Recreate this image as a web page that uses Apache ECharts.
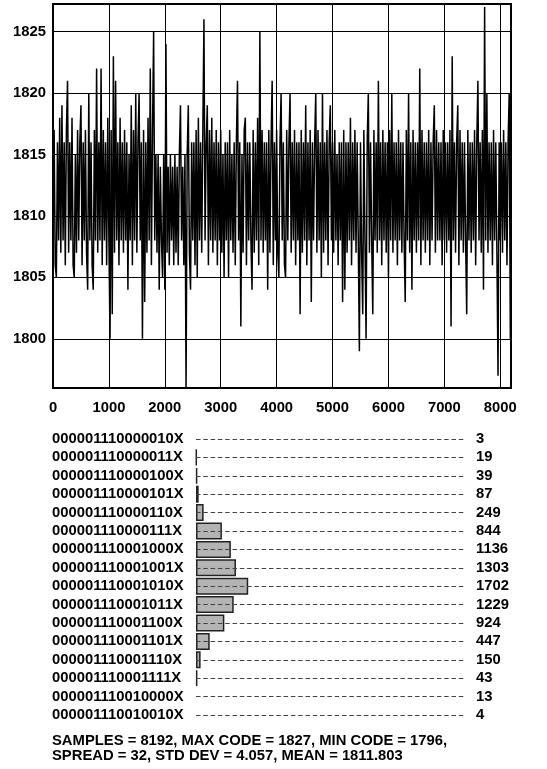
<!DOCTYPE html>
<html>
<head>
<meta charset="utf-8">
<script src="https://cdn.jsdelivr.net/npm/echarts@6/dist/echarts.min.js"></script>
<style>
html,body{margin:0;padding:0;background:#fff;}
#chart{width:547px;height:769px;}
</style>
</head>
<body>
<div id="chart"></div>
<script>
// ---- Time-domain trace (one every SAMPLE_STEP samples) ----
const SAMPLE_STEP = 20;
const traceValues = [
1808,1817,1806,1805,1816,1808,1818,1807,1819,1808,
1816,1806,1817,1821,1807,1816,1808,1818,1806,1805,
1815,1807,1817,1808,1816,1819,1806,1816,1808,1817,
1807,1804,1820,1808,1816,1806,1804,1817,1808,1822,
1807,1816,1808,1822,1806,1817,1808,1816,1806,1818,
1808,1800,1817,1802,1823,1807,1821,1808,1816,1806,
1818,1808,1816,1807,1817,1808,1816,1804,1815,1808,
1819,1806,1817,1808,1820,1807,1816,1820,1808,1816,
1800,1817,1803,1816,1807,1818,1808,1822,1806,1817,
1825,1808,1815,1807,1815,1804,1814,1808,1805,1815,
1804,1824,1807,1814,1806,1815,1808,1814,1806,1815,
1807,1814,1806,1815,1819,1808,1814,1806,1815,1796,
1815,1819,1807,1804,1816,1808,1816,1806,1817,1805,
1818,1808,1816,1807,1817,1826,1808,1816,1819,1806,
1817,1808,1818,1807,1816,1808,1817,1806,1816,1808,
1817,1807,1815,1805,1816,1808,1816,1805,1817,1808,
1815,1807,1816,1806,1816,1821,1808,1816,1801,1815,
1807,1817,1818,1806,1816,1808,1816,1808,1804,1817,
1807,1816,1808,1818,1806,1825,1808,1817,1807,1816,
1808,1816,1804,1817,1807,1816,1821,1806,1816,1808,
1817,1807,1805,1816,1820,1808,1816,1806,1805,1817,
1808,1816,1820,1807,1816,1808,1817,1806,1816,1808,
1816,1802,1817,1807,1816,1808,1819,1806,1816,1808,
1817,1803,1816,1808,1816,1820,1807,1817,1808,1816,
1805,1820,1807,1816,1808,1817,1806,1816,1819,1808,
1816,1807,1817,1808,1815,1806,1816,1808,1816,1803,
1817,1804,1816,1807,1816,1808,1818,1806,1816,1808,
1817,1807,1816,1808,1799,1816,1807,1802,1817,1808,
1800,1816,1820,1807,1816,1808,1802,1817,1808,1816,
1807,1821,1808,1816,1806,1817,1808,1816,1807,1816,
1805,1817,1808,1820,1807,1816,1808,1816,1806,1817,
1808,1816,1807,1816,1808,1803,1817,1808,1820,1807,
1816,1804,1817,1808,1816,1807,1816,1808,1822,1806,
1817,1808,1816,1807,1816,1808,1817,1806,1816,1808,
1816,1819,1807,1817,1808,1816,1808,1816,1806,1817,
1808,1816,1807,1816,1808,1817,1801,1823,1808,1816,
1807,1816,1819,1806,1817,1808,1816,1807,1816,1808,
1802,1817,1808,1816,1807,1816,1808,1817,1806,1816,
1821,1808,1816,1807,1817,1804,1827,1808,1820,1807,
1816,1808,1816,1806,1817,1808,1816,1807,1797,1816,
1808,1816,1807,1817,1808,1816,1806,1816,1820,1800
];
const xTickValues = [0,1000,2000,3000,4000,5000,6000,7000,8000];
const yTickValues = [1800,1805,1810,1815,1820,1825];
const TOTAL_SAMPLES = 8192;

// ---- Histogram ----
const codeLabels = [
'000001110000010X','000001110000011X','000001110000100X','000001110000101X',
'000001110000110X','000001110000111X','000001110001000X','000001110001001X',
'000001110001010X','000001110001011X','000001110001100X','000001110001101X',
'000001110001110X','000001110001111X','000001110010000X','000001110010010X'
];
const codeCounts = [3,19,39,87,249,844,1136,1303,1702,1229,924,447,150,43,13,4];

const statLines = [
'SAMPLES = 8192, MAX CODE = 1827, MIN CODE = 1796,',
'SPREAD = 32, STD DEV = 4.057, MEAN = 1811.803'
];

const FONT = '"Liberation Sans", Arial, Helvetica, sans-serif';
const FONT_SIZE = 14.8;
const HIST_MAX = 8800;

const chart = echarts.init(document.getElementById('chart'), null, {renderer:'canvas'});
const labelStyle = {color:'#000', fontFamily:FONT, fontWeight:'bold', fontSize:FONT_SIZE};

const traceData = traceValues.map((v,i)=>[i*SAMPLE_STEP, v]);
const histData = codeCounts.map(c => c < 15
  ? {value:c, itemStyle:{borderWidth:0, color:'transparent'}}
  : {value:c});

chart.setOption({
  animation:false,
  backgroundColor:'#fff',
  grid:[
    {left:53, top:4, width:458, height:384, show:true, borderColor:'#000', borderWidth:2, backgroundColor:'transparent'},
    {left:196, top:429.8, width:270, height:294.4, show:false}
  ],
  xAxis:[
    {type:'value', gridIndex:0, min:0, max:TOTAL_SAMPLES, interval:1000,
     axisLine:{show:false}, axisTick:{show:false},
     axisLabel:Object.assign({margin:12, showMaxLabel:false,
        formatter:v => xTickValues.indexOf(v)>=0 ? String(v) : ''}, labelStyle),
     splitLine:{show:true, lineStyle:{color:'#000', width:1}}},
    {type:'value', gridIndex:1, min:0, max:HIST_MAX, show:false}
  ],
  yAxis:[
    {type:'value', gridIndex:0, min:1796, max:1827.25,
     axisLine:{show:false},
     axisTick:{show:false, customValues:yTickValues},
     axisLabel:Object.assign({margin:7, customValues:yTickValues, formatter:v=>String(v)}, labelStyle),
     splitLine:{show:true, lineStyle:{color:'#000', width:1}}},
    {type:'category', gridIndex:1, data:codeLabels, inverse:true,
     axisLine:{show:false}, axisTick:{show:false},
     axisLabel:Object.assign({margin:144, align:'left', interval:0}, labelStyle), splitLine:{show:false}},
    {type:'category', gridIndex:1, data:codeCounts.map(String), inverse:true, position:'right',
     axisLine:{show:false}, axisTick:{show:false},
     axisLabel:Object.assign({margin:10, interval:0}, labelStyle), splitLine:{show:false}}
  ],
  series:[
    {type:'line', xAxisIndex:0, yAxisIndex:0, data:traceData, showSymbol:false,
     lineStyle:{color:'#000', width:1.5}, silent:true, clip:true},
    {type:'bar', xAxisIndex:1, yAxisIndex:1, data:histData, barWidth:17,
     itemStyle:{color:'#b4b4b4', borderColor:'#222', borderWidth:1.5},
     markLine:{silent:true, symbol:['none','none'], label:{show:false},
       lineStyle:{color:'#444', width:1, type:[4.5,2.8]},
       data:codeLabels.map(c=>[{coord:[0,c]},{coord:[HIST_MAX,c]}])}}
  ],
  graphic:statLines.map((t,i)=>({type:'text', left:52, top:733.5+i*15,
     style:{text:t, fill:'#000', font:'bold '+FONT_SIZE+'px '+FONT}}))
});
</script>
</body>
</html>
